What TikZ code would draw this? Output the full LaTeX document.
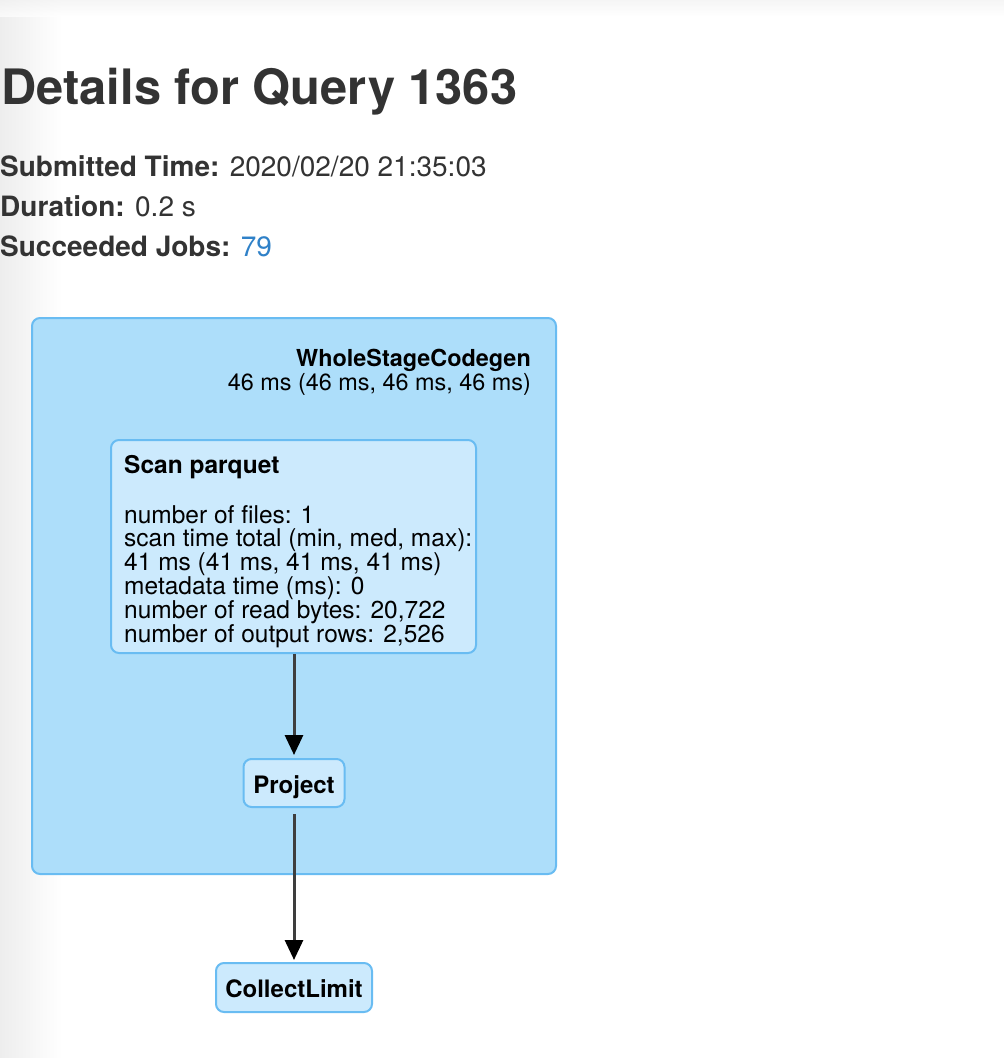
\documentclass[tikz,border=0pt]{standalone}
\usepackage{fontspec}
\setmainfont{TeX Gyre Heros}
\usetikzlibrary{arrows.meta}
\definecolor{heading}{RGB}{51, 51, 51}
\definecolor{link}{RGB}{47, 129, 200}
\definecolor{clusterfill}{RGB}{173, 222, 250}
\definecolor{opfill}{RGB}{204, 234, 253}
\definecolor{edge}{RGB}{105, 188, 242}
\definecolor{wire}{RGB}{62, 62, 62}

\begin{document}
\begin{tikzpicture}[x=1pt, y=-1pt,
  meta/.style={anchor=base west, inner sep=0pt, text=heading, font=\fontsize{28}{28}\selectfont},
  cluster/.style={draw=edge, fill=clusterfill, line width=2pt, rounded corners=8pt, inner sep=0pt},
  opbox/.style={draw=edge, fill=opfill, line width=2pt, rounded corners=8pt, inner sep=0pt},
  op/.style={opbox, font=\fontsize{24}{23}\selectfont\bfseries, text height=20pt, text depth=0pt},
  flow/.style={draw=wire, line width=3pt, -{Triangle[width=18pt, length=20pt, color=black]}}]
  \useasboundingbox (0, 0) rectangle (1004, 1058);
  \fill [white] (0, 0) rectangle (1004, 1058);
  \shade [left color=black!7, right color=white] (0, 0) rectangle (62, 1058);
  \shade [top color=black!5, bottom color=white, opacity=0.7] (0, 0) rectangle (1004, 16);

  \node [anchor=base west, inner sep=0pt, text=heading, font=\fontsize{48.8}{49}\selectfont\bfseries] (title) at (1, 104) {Details for Query 1363};
  \node [meta] (submitted) at (0, 176) {\textbf{Submitted Time:} 2020/02/20 21:35:03};
  \node [meta] (duration) at (0, 216) {\textbf{Duration:} 0.2 s};
  \node [meta] (jobs) at (0, 256) {\textbf{Succeeded Jobs:} \textcolor{link}{79}};

  \node [cluster, minimum width=524pt, minimum height=556pt] (wscg) at (294, 596) {};
  \node [anchor=north east, align=right, inner sep=0pt, font=\fontsize{23.4}{24}\selectfont] (wscglabel) at (531, 349)
  {\textbf{WholeStageCodegen}\\46 ms (46 ms, 46 ms, 46 ms)};

  \node [opbox, minimum width=365pt, minimum height=213pt] (scan) at (293.5, 546.5) {};
  \node [anchor=north west, align=left, inner sep=0pt, font=\fontsize{24.5}{23}\selectfont] (scantext) at (124, 455.5)
  {\textbf{Scan parquet}\\[25pt]
   number of files: 1\\
   scan time total (min, med, max):\\
   41 ms (41 ms, 41 ms, 41 ms)\\
   metadata time (ms): 0\\
   number of read bytes: 20,722\\
   number of output rows: 2,526};

  \node [op, minimum width=101pt, minimum height=48pt] (project) at (294, 783) {Project};
  \node [op, minimum width=156pt, minimum height=49pt] (collect) at (294, 987.5) {CollectLimit};

  \draw [flow, shorten >=3pt] (scan.south -| project.north) -- (project.north);
  \draw [flow, shorten <=6pt, shorten >=2pt] (project.south) -- (collect.north);
\end{tikzpicture}
\end{document}
